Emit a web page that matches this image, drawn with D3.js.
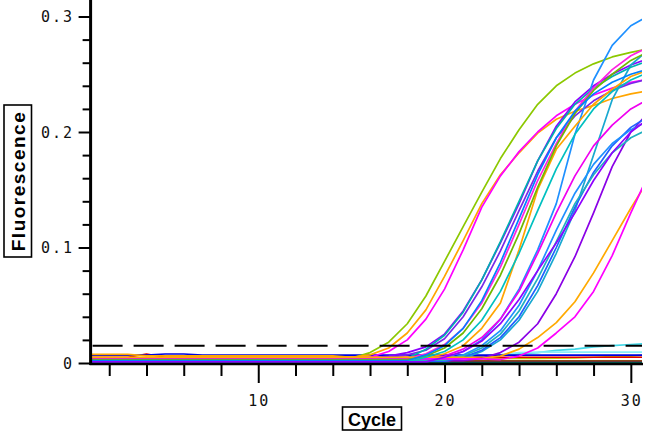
<!DOCTYPE html>
<html><head><meta charset="utf-8">
<script src="https://cdn.jsdelivr.net/npm/d3@7"></script>
<style>body{margin:0;background:#fff}svg{display:block}</style>
</head><body><svg id="c" width="654" height="440"></svg>
<script>
// ---- data ----
const cycles = [1,2,3,4,5,6,7,8,9,10,11,12,13,14,15,16,17,18,19,20,21,22,23,24,25,26,27,28,29,30,31];
const xMajorTicks = [10,20,30];
const xMinorTicks = [2,4,6,8,12,14,16,18,22,24,26,28];
const yMajorTicks = [0,0.1,0.2,0.3];
const yMinorTicks = [0.02,0.04,0.06,0.08,0.12,0.14,0.16,0.18,0.22,0.24,0.26,0.28];
const yTickLabels = ["0","0.1","0.2","0.3"];
const threshold = 0.015;

// flat / non-amplifying wells
const s22 = [.002,.002,.002,.002,.002,.002,.002,.002,.002,.002,.002,.002,.002,.002,.002,.002,.002,.002,.002,.002,.004,.006,.007,.008,.009,.011,.012,.014,.015,.016,.017];
const s23 = [.001,.001,.001,.001,.001,.001,.001,.001,.001,.001,.001,.001,.001,.001,.001,.001,.001,.001,.001,.001,.001,.004,.007,.009,.0095,.0095,.0095,.0095,.0095,.0095,.0095];
const s24 = [.004,.004,.004,.004,.004,.004,.004,.004,.004,.004,.004,.004,.004,.004,.004,.004,.004,.004,.004,.004,.004,.004,.004,.004,.004,.0042,.0045,.005,.0055,.006,.007];
const s25 = [.0008,.0008,.0008,.0008,.0008,.0008,.0008,.0008,.0008,.0008,.0008,.0008,.0008,.0008,.0008,.0008,.0008,.0008,.0008,.0008,.0008,.0008,.0008,.0008,.0008,.0008,.0008,.0008,.0008,.0008,.0008];
const s26 = [.0012,.0012,.0012,.0012,.0012,.0012,.0012,.0012,.0012,.0012,.0012,.0012,.0012,.0012,.0012,.0012,.0012,.0012,.0012,.0012,.0012,.0012,.0012,.0012,.0012,.0012,.0012,.0012,.0012,.0012,.0012];
const s27 = [.0018,.0018,.0018,.0018,.0018,.0018,.0018,.0018,.0018,.0018,.0018,.0018,.0018,.0018,.0018,.0018,.0018,.0018,.0018,.0018,.0018,.0018,.0018,.0018,.0018,.0018,.0018,.0018,.0018,.0018,.0018];
const s28 = [.005,.005,.005,.0078,.005,.005,.005,.005,.005,.005,.005,.005,.005,.005,.005,.005,.005,.005,.005,.005,.005,.005,.005,.005,.005,.005,.005,.005,.005,.005,.005];
const s29 = [.0068,.0068,.0068,.0068,.0078,.0078,.0068,.0068,.0068,.0068,.0068,.0068,.0068,.0068,.0068,.0068,.0068,.0068,.0068,.0068,.0068,.0068,.0068,.0068,.0068,.0068,.0068,.0068,.0068,.0068,.0068];

// amplifying wells
const s01 = [.0045,.0045,.0045,.0045,.0045,.0045,.0045,.0045,.0045,.0045,.0045,.0045,.0045,.004,.004,.009,.018,.034,.058,.088,.118,.148,.177,.202,.224,.240,.251,.259,.265,.269,.272];
const s02 = [.0075,.0075,.0075,.0062,.0062,.0062,.0062,.0062,.0062,.0062,.0062,.0062,.0062,.0062,.005,.007,.013,.026,.046,.075,.106,.138,.163,.182,.199,.211,.218,.223,.229,.233,.236];
const s03 = [.003,.003,.003,.003,.003,.003,.003,.003,.003,.003,.003,.003,.003,.003,.003,.005,.010,.020,.038,.064,.098,.135,.162,.183,.200,.214,.224,.232,.238,.243,.246];
const s04 = [.002,.002,.002,.002,.002,.002,.002,.002,.002,.002,.002,.002,.002,.002,.002,.004,.006,.009,.014,.025,.045,.072,.104,.138,.175,.205,.226,.240,.250,.258,.264];
const s05 = [.0025,.0025,.0025,.0025,.0025,.0025,.0025,.0025,.0025,.0025,.0025,.0025,.0025,.0025,.0025,.003,.005,.007,.011,.021,.040,.066,.097,.132,.166,.195,.214,.227,.236,.242,.246];
const s06 = [.001,.001,.001,.001,.001,.001,.001,.001,.001,.001,.001,.001,.001,.001,.001,.001,.001,.001,.001,.004,.010,.020,.038,.064,.098,.138,.198,.245,.275,.292,.301];
const s07 = [.0015,.0015,.0015,.0015,.0015,.0015,.0015,.0015,.0015,.0015,.0015,.0015,.0015,.0015,.0015,.0015,.0015,.0015,.0015,.0015,.004,.010,.020,.037,.062,.095,.132,.180,.228,.258,.272];
const s08 = [.002,.002,.002,.002,.002,.002,.002,.002,.002,.002,.002,.002,.002,.002,.002,.002,.002,.004,.012,.024,.044,.072,.105,.140,.175,.203,.224,.238,.248,.256,.262];
const s09 = [.0035,.0035,.0035,.0035,.0035,.0035,.0035,.0035,.0035,.0035,.0035,.0035,.0035,.0035,.0035,.0035,.0035,.0035,.004,.008,.015,.030,.052,.098,.150,.185,.205,.224,.237,.248,.254];
const s10 = [.004,.004,.004,.004,.004,.004,.004,.004,.004,.004,.004,.004,.004,.004,.004,.004,.004,.004,.008,.016,.030,.052,.083,.120,.158,.190,.218,.238,.254,.266,.274];
const s11 = [.0035,.0035,.0035,.0035,.0035,.0035,.0035,.0035,.0035,.0035,.0035,.0035,.0035,.0035,.0035,.0035,.0035,.0035,.0035,.006,.012,.022,.038,.062,.095,.130,.162,.188,.206,.220,.229];
const s12 = [.002,.002,.002,.002,.002,.002,.002,.002,.002,.002,.002,.002,.002,.002,.002,.002,.002,.002,.002,.002,.002,.004,.009,.018,.034,.060,.092,.130,.170,.200,.218];
const s13 = [.0015,.0015,.0015,.0015,.0015,.0015,.0015,.0015,.0015,.0015,.0015,.0015,.0015,.0015,.0015,.0015,.0015,.0015,.0015,.0015,.005,.011,.022,.040,.067,.100,.135,.165,.188,.204,.214];
const s14 = [.003,.003,.003,.003,.003,.003,.003,.003,.003,.003,.003,.003,.003,.003,.003,.003,.003,.003,.003,.003,.007,.015,.028,.050,.080,.115,.147,.172,.190,.202,.210];
const s15 = [.0025,.0025,.0025,.0025,.0025,.0025,.0025,.0025,.0025,.0025,.0025,.0025,.0025,.0025,.0025,.0025,.0025,.0025,.0025,.0025,.006,.013,.025,.045,.073,.105,.138,.163,.182,.195,.203];
const s16 = [.005,.005,.005,.005,.005,.005,.005,.005,.005,.005,.005,.005,.005,.005,.005,.005,.005,.005,.005,.005,.005,.004,.006,.012,.022,.035,.053,.078,.106,.134,.160];
const s17 = [.0035,.0035,.0035,.0035,.0035,.0035,.0035,.0035,.0035,.0035,.0035,.0035,.0035,.0035,.0035,.0035,.0035,.0035,.0035,.0035,.0035,.0035,.003,.006,.013,.026,.040,.062,.093,.130,.165];
const s18 = [.003,.003,.003,.003,.003,.003,.003,.003,.003,.003,.003,.003,.003,.003,.003,.003,.003,.003,.006,.013,.026,.047,.076,.112,.152,.188,.216,.236,.250,.262,.270];
const s19 = [.002,.002,.002,.002,.002,.002,.002,.002,.002,.002,.002,.002,.002,.002,.002,.002,.002,.002,.007,.015,.030,.054,.087,.125,.163,.195,.218,.233,.243,.250,.255];
const s20 = [.001,.001,.001,.001,.001,.001,.001,.001,.001,.001,.001,.001,.001,.001,.001,.001,.001,.001,.005,.010,.020,.037,.062,.095,.132,.168,.198,.220,.235,.245,.252];
const s21 = [.001,.001,.001,.001,.001,.001,.001,.001,.001,.001,.001,.001,.001,.001,.001,.001,.001,.001,.001,.005,.010,.019,.034,.055,.080,.104,.130,.158,.182,.200,.212];

const seriesValues = [s22,s23,s24,s25,s26,s27,s28,s29,s01,s02,s03,s04,s05,s06,s07,s08,s09,s10,s11,s12,s13,s14,s15,s16,s17,s18,s19,s20,s21];
const seriesColors = ["#40d8e8","#88eef8","#c0c000","#00cc00","#0000b0","#8b4513","#e00000","#0000e0",
  "#8cc800","#ffa500","#ff00ff","#8b00ff","#7a28e8","#1e90ff","#18a8d0","#00b0b0","#ffa500","#ff20e0","#f000f0","#8a00e6","#2060ff","#1e90ff","#20b0c0","#ffaa00","#ff00ff","#70b800","#0080ff","#00c0c0","#9000ff"];

// ---- drawing ----
const svg = d3.select('#c');
const x = d3.scaleLinear().domain([1, 30.6]).range([90.6, 642]);
const y = d3.scaleLinear().domain([0, 0.3]).range([363, 16.5]);

svg.append('defs').append('clipPath').attr('id','clip')
  .append('rect').attr('x', x(1)).attr('y', 0).attr('width', x(30.6)-x(1)).attr('height', y(0)+1);

const plot = svg.append('g').attr('clip-path','url(#clip)');
const line = d3.line().x((d,i)=>x(cycles[i])).y(d=>y(d));
seriesValues.forEach((vals,i)=>{
  plot.append('path').attr('d', line(vals)).attr('fill','none')
    .attr('stroke', seriesColors[i]).attr('stroke-width', 1.7).attr('stroke-linejoin','round');
});

// threshold
svg.append('line').attr('x1', x(1)+2).attr('x2', x(30.6)).attr('y1', y(threshold)).attr('y2', y(threshold))
  .attr('stroke','#000').attr('stroke-width',2).attr('stroke-dasharray','30,11');

const tickFont = "'DejaVu Sans Mono', monospace";

// y axis
const yAxisG = svg.append('g').attr('transform', `translate(${x(1)},0)`);
yAxisG.append('g').call(d3.axisLeft(y).tickValues(yMinorTicks).tickSize(8).tickFormat(''))
  .call(g=>g.select('.domain').remove());
yAxisG.append('g').call(d3.axisLeft(y).tickValues(yMajorTicks).tickSize(12).tickFormat(''))
  .call(g=>g.select('.domain').remove());
yAxisG.selectAll('.tick line').attr('stroke','#000').attr('stroke-width',2);
yAxisG.append('line').attr('x1',0).attr('x2',0).attr('y1',0).attr('y2',y(0)+2)
  .attr('stroke','#000').attr('stroke-width',3);
yMajorTicks.forEach((v,i)=>{
  svg.append('text').attr('x', 74).attr('y', y(v)+5.5).attr('text-anchor','end')
    .attr('font-family', tickFont).attr('font-size', 15).attr('letter-spacing', 2)
    .attr('fill','#111').text(yTickLabels[i]);
});

// x axis
const xAxisG = svg.append('g').attr('transform', `translate(0,${y(0)+1})`);
xAxisG.append('g').call(d3.axisBottom(x).tickValues(xMinorTicks).tickSize(12).tickFormat(''))
  .call(g=>g.select('.domain').remove());
xAxisG.append('g').call(d3.axisBottom(x).tickValues(xMajorTicks).tickSize(19).tickFormat(''))
  .call(g=>g.select('.domain').remove());
xAxisG.selectAll('.tick line').attr('stroke','#000').attr('stroke-width',2);
xAxisG.append('line').attr('x1', x(1)-1).attr('x2', x(30.6)+1).attr('y1',0).attr('y2',0)
  .attr('stroke','#000').attr('stroke-width',2.5);
xMajorTicks.forEach(v=>{
  svg.append('text').attr('x', x(v)+1).attr('y', 406).attr('text-anchor','middle')
    .attr('font-family', tickFont).attr('font-size', 15).attr('letter-spacing', 2)
    .attr('fill','#111').text(String(v));
});

// axis titles with boxes
svg.append('rect').attr('x',342.5).attr('y',407).attr('width',59).attr('height',23)
  .attr('fill','#fff').attr('stroke','#000').attr('stroke-width',1.6);
svg.append('text').attr('x',372).attr('y',425.5).attr('text-anchor','middle')
  .attr('font-family',"'Liberation Sans', Arial, sans-serif").attr('font-weight','bold')
  .attr('font-size',18).attr('fill','#000').text('Cycle');

svg.append('rect').attr('x',4).attr('y',105).attr('width',27.5).attr('height',152)
  .attr('fill','#fff').attr('stroke','#000').attr('stroke-width',1.6);
svg.append('text').attr('transform','translate(24.5,181) rotate(-90)').attr('text-anchor','middle')
  .attr('font-family',"'Liberation Sans', Arial, sans-serif").attr('font-weight','bold')
  .attr('font-size',19).attr('letter-spacing',1.5).attr('fill','#000').text('Fluorescence');
</script></body></html>
